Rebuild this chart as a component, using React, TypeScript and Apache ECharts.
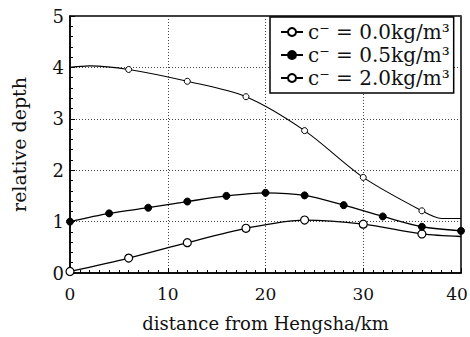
import React, { useEffect, useRef } from "react";
import * as echarts from "echarts";

const xTicks = [0, 10, 20, 30, 40];
const yTicks = [0, 1, 2, 3, 4, 5];
const legendNames = ["c\u207B = 0.0kg/m\u00B3", "c\u207B = 0.5kg/m\u00B3", "c\u207B = 2.0kg/m\u00B3"];

// c = 0.0 (open circles)
const s0x = [0, 6, 12, 18, 24, 30, 36, 40];
const s0y = [0.03, 0.29, 0.59, 0.87, 1.03, 0.95, 0.76, 0.71];
const s0mark = [true, true, true, true, true, true, true, false];
// c = 0.5 (filled circles)
const s1x = [0, 4, 8, 12, 16, 20, 24, 28, 32, 36, 40];
const s1y = [1.0, 1.16, 1.27, 1.39, 1.5, 1.56, 1.51, 1.32, 1.1, 0.9, 0.82];
// c = 2.0 (small open circles)
const s2x = [0, 2, 6, 12, 18, 24, 30, 36, 38, 40];
const s2y = [4.0, 4.03, 3.96, 3.73, 3.43, 2.77, 1.86, 1.21, 1.06, 1.06];
const s2mark = [false, false, true, true, true, true, true, true, false, false];

const FONT = "'DejaVu Serif', 'Liberation Serif', serif";

export default function App() {
  const ref = useRef<HTMLDivElement>(null);
  useEffect(() => {
    const chart = echarts.init(ref.current!, null, { renderer: "svg" });
    const mk = (xs: number[], ys: number[], marks?: boolean[]) =>
      xs.map((x, i) =>
        marks && !marks[i] ? { value: [x, ys[i]], symbol: "none" } : { value: [x, ys[i]] }
      );
    chart.setOption({
      animation: false,
      backgroundColor: "#fff",
      textStyle: { fontFamily: FONT },
      grid: {
        left: 70,
        right: 9,
        top: 16,
        bottom: 64,
        containLabel: false,
        outerBoundsMode: "none",
        show: true,
        borderColor: "#000",
        borderWidth: 1.5,
      },
      legend: {
        left: 270,
        top: 17,
        orient: "vertical",
        backgroundColor: "#fff",
        borderColor: "#000",
        borderWidth: 1.5,
        padding: [5, 4, 5, 10],
        itemGap: 3,
        itemWidth: 22,
        itemHeight: 10,
        data: legendNames,
        textStyle: { fontFamily: FONT, fontSize: 20, color: "#111" },
      },
      xAxis: {
        type: "value",
        min: 0,
        max: 40,
        interval: 10,
        name: "distance from Hengsha/km",
        nameLocation: "middle",
        nameGap: 41,
        nameTextStyle: { fontFamily: FONT, fontSize: 18, color: "#111" },
        axisLine: { lineStyle: { color: "#000", width: 1.5 } },
        axisTick: { inside: true, length: 5, lineStyle: { color: "#000" } },
        minorTick: { show: true, splitNumber: 10, length: 3, lineStyle: { color: "#000" } },
        axisLabel: {
          fontFamily: FONT,
          fontSize: 17,
          color: "#111",
          margin: 12,
          formatter: (v: number) =>
            v === 40 ? "{r|40}" : xTicks.includes(v) ? String(v) : "",
          rich: { r: { fontFamily: FONT, fontSize: 17, color: "#111", padding: [0, 8, 0, 0] } },
        },
        splitLine: { show: true, lineStyle: { color: "#444", type: [1, 2], width: 1 } },
      },
      yAxis: {
        type: "value",
        min: 0,
        max: 5,
        interval: 1,
        name: "relative depth",
        nameLocation: "middle",
        nameGap: 42,
        nameTextStyle: { fontFamily: FONT, fontSize: 19, color: "#111" },
        axisLine: { show: true, lineStyle: { color: "#000", width: 1.5 } },
        axisTick: { show: true, inside: true, length: 5, lineStyle: { color: "#000" } },
        minorTick: { show: true, splitNumber: 5, length: 3, lineStyle: { color: "#000" } },
        axisLabel: {
          fontFamily: FONT,
          fontSize: 18,
          color: "#111",
          margin: 6,
          formatter: (v: number) => (yTicks.includes(v) ? String(v) : ""),
        },
        splitLine: { show: true, lineStyle: { color: "#444", type: [1, 2], width: 1 } },
      },
      series: [
        {
          name: legendNames[0],
          type: "line",
          smooth: 0.3,
          data: mk(s0x, s0y, s0mark),
          symbol: "circle",
          symbolSize: 8,
          itemStyle: { color: "#fff", borderColor: "#000", borderWidth: 1.2 },
          lineStyle: { color: "#000", width: 1.3 },
        },
        {
          name: legendNames[1],
          type: "line",
          smooth: 0.3,
          data: mk(s1x, s1y),
          symbol: "circle",
          symbolSize: 7,
          itemStyle: { color: "#000", borderColor: "#000", borderWidth: 1 },
          lineStyle: { color: "#000", width: 1.3 },
        },
        {
          name: legendNames[2],
          type: "line",
          smooth: 0.3,
          data: mk(s2x, s2y, s2mark),
          symbol: "circle",
          symbolSize: 6,
          itemStyle: { color: "#fff", borderColor: "#000", borderWidth: 1 },
          lineStyle: { color: "#000", width: 1.1 },
        },
      ],
    });
    return () => chart.dispose();
  }, []);
  return <div ref={ref} style={{ width: 470, height: 337, position: "absolute", left: 0, top: 0 }} />;
}
